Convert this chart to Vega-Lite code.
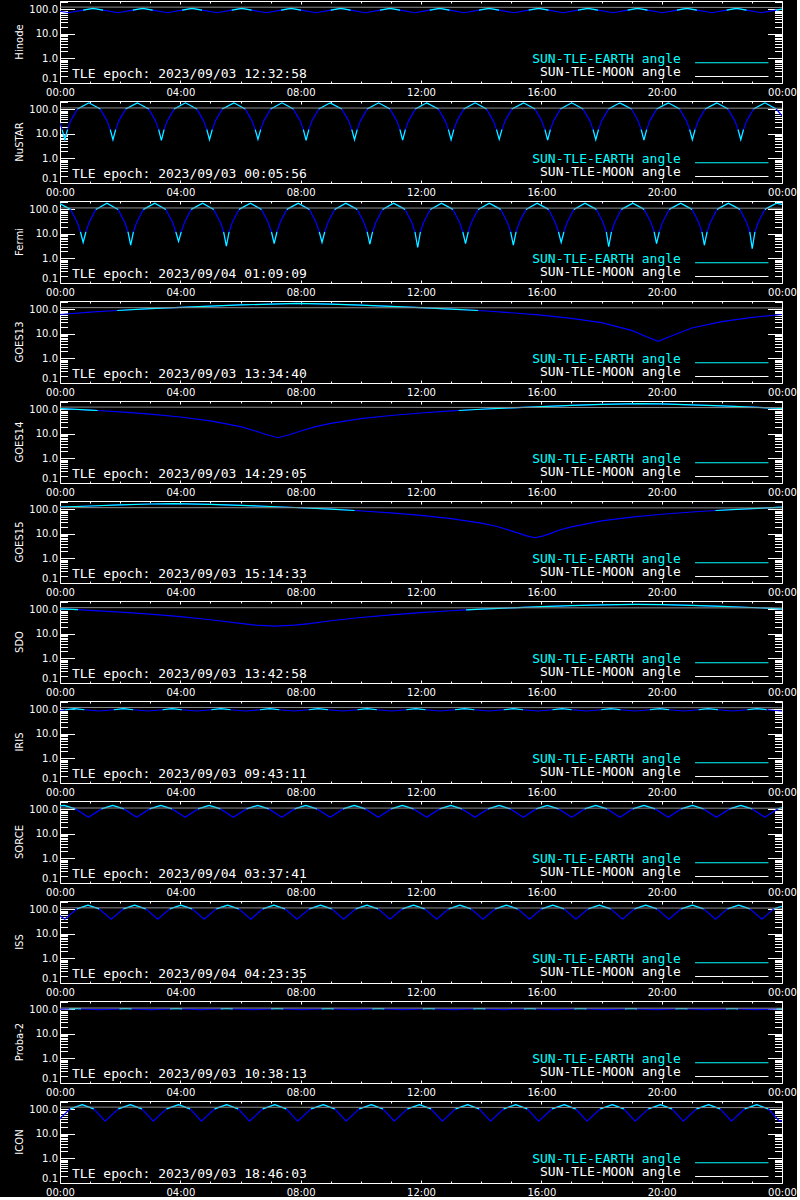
{
"$schema": "https://vega.github.io/schema/vega-lite/v6.json",
"background": "black",
"padding": {"left": 15, "top": 0, "right": 0, "bottom": 0},
"bounds": "flush",
"spacing": {"row": 18},
"data": {"values": [
{"s":"Hinode","t":0,"v":84},{"s":"Hinode","t":0.28,"v":73},
{"s":"Hinode","t":0.77,"v":93,"g":1},{"s":"Hinode","t":1.1,"v":111,"g":1},{"s":"Hinode","t":1.43,"v":93,"g":1},{"s":"Hinode","t":1.93,"v":73},
{"s":"Hinode","t":2.42,"v":93,"g":2},{"s":"Hinode","t":2.75,"v":111,"g":2},{"s":"Hinode","t":3.08,"v":93,"g":2},{"s":"Hinode","t":3.57,"v":73},
{"s":"Hinode","t":4.06,"v":93,"g":3},{"s":"Hinode","t":4.39,"v":111,"g":3},{"s":"Hinode","t":4.72,"v":93,"g":3},{"s":"Hinode","t":5.22,"v":73},
{"s":"Hinode","t":5.71,"v":93,"g":4},{"s":"Hinode","t":6.04,"v":111,"g":4},{"s":"Hinode","t":6.37,"v":93,"g":4},{"s":"Hinode","t":6.86,"v":73},
{"s":"Hinode","t":7.35,"v":93,"g":5},{"s":"Hinode","t":7.68,"v":111,"g":5},{"s":"Hinode","t":8.01,"v":93,"g":5},{"s":"Hinode","t":8.51,"v":73},
{"s":"Hinode","t":9.0,"v":93,"g":6},{"s":"Hinode","t":9.33,"v":111,"g":6},{"s":"Hinode","t":9.66,"v":93,"g":6},{"s":"Hinode","t":10.15,"v":73},
{"s":"Hinode","t":10.64,"v":93,"g":7},{"s":"Hinode","t":10.97,"v":111,"g":7},{"s":"Hinode","t":11.3,"v":93,"g":7},{"s":"Hinode","t":11.8,"v":73},
{"s":"Hinode","t":12.29,"v":93,"g":8},{"s":"Hinode","t":12.62,"v":111,"g":8},{"s":"Hinode","t":12.95,"v":93,"g":8},{"s":"Hinode","t":13.44,"v":73},
{"s":"Hinode","t":13.93,"v":93,"g":9},{"s":"Hinode","t":14.26,"v":111,"g":9},{"s":"Hinode","t":14.59,"v":93,"g":9},{"s":"Hinode","t":15.09,"v":73},
{"s":"Hinode","t":15.58,"v":93,"g":10},{"s":"Hinode","t":15.91,"v":111,"g":10},{"s":"Hinode","t":16.24,"v":93,"g":10},{"s":"Hinode","t":16.73,"v":73},
{"s":"Hinode","t":17.22,"v":93,"g":11},{"s":"Hinode","t":17.55,"v":111,"g":11},{"s":"Hinode","t":17.88,"v":93,"g":11},{"s":"Hinode","t":18.38,"v":73},
{"s":"Hinode","t":18.87,"v":93,"g":12},{"s":"Hinode","t":19.2,"v":111,"g":12},{"s":"Hinode","t":19.53,"v":93,"g":12},{"s":"Hinode","t":20.02,"v":73},
{"s":"Hinode","t":20.51,"v":93,"g":13},{"s":"Hinode","t":20.84,"v":111,"g":13},{"s":"Hinode","t":21.17,"v":93,"g":13},{"s":"Hinode","t":21.67,"v":73},
{"s":"Hinode","t":22.16,"v":93,"g":14},{"s":"Hinode","t":22.49,"v":111,"g":14},{"s":"Hinode","t":22.82,"v":93,"g":14},{"s":"Hinode","t":23.31,"v":73},
{"s":"Hinode","t":23.8,"v":93,"g":15},{"s":"Hinode","t":24,"v":102,"g":15},

{"s":"NuSTAR","t":0,"v":28},{"s":"NuSTAR","t":0.07,"v":15,"g":"d1"},{"s":"NuSTAR","t":0.16,"v":6,"g":"d1"},{"s":"NuSTAR","t":0.25,"v":15,"g":"d1"},{"s":"NuSTAR","t":0.36,"v":35},
{"s":"NuSTAR","t":0.58,"v":103,"g":"p1"},{"s":"NuSTAR","t":0.96,"v":185,"g":"p1"},{"s":"NuSTAR","t":1.34,"v":103,"g":"p1"},{"s":"NuSTAR","t":1.56,"v":35},
{"s":"NuSTAR","t":1.67,"v":15,"g":"d2"},{"s":"NuSTAR","t":1.76,"v":5.8,"g":"d2"},{"s":"NuSTAR","t":1.85,"v":15,"g":"d2"},{"s":"NuSTAR","t":1.96,"v":35},
{"s":"NuSTAR","t":2.18,"v":103,"g":"p2"},{"s":"NuSTAR","t":2.57,"v":185,"g":"p2"},{"s":"NuSTAR","t":2.95,"v":103,"g":"p2"},{"s":"NuSTAR","t":3.17,"v":35},
{"s":"NuSTAR","t":3.28,"v":15,"g":"d3"},{"s":"NuSTAR","t":3.37,"v":5.5,"g":"d3"},{"s":"NuSTAR","t":3.46,"v":15,"g":"d3"},{"s":"NuSTAR","t":3.57,"v":35},
{"s":"NuSTAR","t":3.79,"v":103,"g":"p3"},{"s":"NuSTAR","t":4.17,"v":185,"g":"p3"},{"s":"NuSTAR","t":4.55,"v":103,"g":"p3"},{"s":"NuSTAR","t":4.77,"v":35},
{"s":"NuSTAR","t":4.88,"v":15,"g":"d4"},{"s":"NuSTAR","t":4.97,"v":5.8,"g":"d4"},{"s":"NuSTAR","t":5.06,"v":15,"g":"d4"},{"s":"NuSTAR","t":5.17,"v":35},
{"s":"NuSTAR","t":5.39,"v":103,"g":"p4"},{"s":"NuSTAR","t":5.78,"v":185,"g":"p4"},{"s":"NuSTAR","t":6.16,"v":103,"g":"p4"},{"s":"NuSTAR","t":6.38,"v":35},
{"s":"NuSTAR","t":6.49,"v":15,"g":"d5"},{"s":"NuSTAR","t":6.58,"v":6,"g":"d5"},{"s":"NuSTAR","t":6.67,"v":15,"g":"d5"},{"s":"NuSTAR","t":6.78,"v":35},
{"s":"NuSTAR","t":7.0,"v":103,"g":"p5"},{"s":"NuSTAR","t":7.38,"v":185,"g":"p5"},{"s":"NuSTAR","t":7.76,"v":103,"g":"p5"},{"s":"NuSTAR","t":7.98,"v":35},
{"s":"NuSTAR","t":8.09,"v":15,"g":"d6"},{"s":"NuSTAR","t":8.18,"v":5.5,"g":"d6"},{"s":"NuSTAR","t":8.27,"v":15,"g":"d6"},{"s":"NuSTAR","t":8.38,"v":35},
{"s":"NuSTAR","t":8.6,"v":103,"g":"p6"},{"s":"NuSTAR","t":8.98,"v":185,"g":"p6"},{"s":"NuSTAR","t":9.37,"v":103,"g":"p6"},{"s":"NuSTAR","t":9.59,"v":35},
{"s":"NuSTAR","t":9.7,"v":15,"g":"d7"},{"s":"NuSTAR","t":9.79,"v":5.8,"g":"d7"},{"s":"NuSTAR","t":9.88,"v":15,"g":"d7"},{"s":"NuSTAR","t":9.99,"v":35},
{"s":"NuSTAR","t":10.21,"v":103,"g":"p7"},{"s":"NuSTAR","t":10.59,"v":185,"g":"p7"},{"s":"NuSTAR","t":10.97,"v":103,"g":"p7"},{"s":"NuSTAR","t":11.19,"v":35},
{"s":"NuSTAR","t":11.3,"v":15,"g":"d8"},{"s":"NuSTAR","t":11.39,"v":5.6,"g":"d8"},{"s":"NuSTAR","t":11.48,"v":15,"g":"d8"},{"s":"NuSTAR","t":11.59,"v":35},
{"s":"NuSTAR","t":11.81,"v":103,"g":"p8"},{"s":"NuSTAR","t":12.19,"v":185,"g":"p8"},{"s":"NuSTAR","t":12.58,"v":103,"g":"p8"},{"s":"NuSTAR","t":12.8,"v":35},
{"s":"NuSTAR","t":12.91,"v":15,"g":"d9"},{"s":"NuSTAR","t":13.0,"v":5.8,"g":"d9"},{"s":"NuSTAR","t":13.09,"v":15,"g":"d9"},{"s":"NuSTAR","t":13.2,"v":35},
{"s":"NuSTAR","t":13.42,"v":103,"g":"p9"},{"s":"NuSTAR","t":13.8,"v":185,"g":"p9"},{"s":"NuSTAR","t":14.18,"v":103,"g":"p9"},{"s":"NuSTAR","t":14.4,"v":35},
{"s":"NuSTAR","t":14.51,"v":15,"g":"d10"},{"s":"NuSTAR","t":14.6,"v":6,"g":"d10"},{"s":"NuSTAR","t":14.69,"v":15,"g":"d10"},{"s":"NuSTAR","t":14.8,"v":35},
{"s":"NuSTAR","t":15.02,"v":103,"g":"p10"},{"s":"NuSTAR","t":15.41,"v":185,"g":"p10"},{"s":"NuSTAR","t":15.79,"v":103,"g":"p10"},{"s":"NuSTAR","t":16.01,"v":35},
{"s":"NuSTAR","t":16.12,"v":15,"g":"d11"},{"s":"NuSTAR","t":16.21,"v":5.6,"g":"d11"},{"s":"NuSTAR","t":16.3,"v":15,"g":"d11"},{"s":"NuSTAR","t":16.41,"v":35},
{"s":"NuSTAR","t":16.63,"v":103,"g":"p11"},{"s":"NuSTAR","t":17.01,"v":185,"g":"p11"},{"s":"NuSTAR","t":17.39,"v":103,"g":"p11"},{"s":"NuSTAR","t":17.61,"v":35},
{"s":"NuSTAR","t":17.72,"v":15,"g":"d12"},{"s":"NuSTAR","t":17.81,"v":5.8,"g":"d12"},{"s":"NuSTAR","t":17.9,"v":15,"g":"d12"},{"s":"NuSTAR","t":18.01,"v":35},
{"s":"NuSTAR","t":18.23,"v":103,"g":"p12"},{"s":"NuSTAR","t":18.61,"v":185,"g":"p12"},{"s":"NuSTAR","t":19.0,"v":103,"g":"p12"},{"s":"NuSTAR","t":19.21,"v":35},
{"s":"NuSTAR","t":19.32,"v":15,"g":"d13"},{"s":"NuSTAR","t":19.41,"v":5.6,"g":"d13"},{"s":"NuSTAR","t":19.5,"v":15,"g":"d13"},{"s":"NuSTAR","t":19.61,"v":35},
{"s":"NuSTAR","t":19.83,"v":103,"g":"p13"},{"s":"NuSTAR","t":20.22,"v":185,"g":"p13"},{"s":"NuSTAR","t":20.6,"v":103,"g":"p13"},{"s":"NuSTAR","t":20.82,"v":35},
{"s":"NuSTAR","t":20.93,"v":15,"g":"d14"},{"s":"NuSTAR","t":21.02,"v":5.8,"g":"d14"},{"s":"NuSTAR","t":21.11,"v":15,"g":"d14"},{"s":"NuSTAR","t":21.22,"v":35},
{"s":"NuSTAR","t":21.44,"v":103,"g":"p14"},{"s":"NuSTAR","t":21.83,"v":185,"g":"p14"},{"s":"NuSTAR","t":22.21,"v":103,"g":"p14"},{"s":"NuSTAR","t":22.43,"v":35},
{"s":"NuSTAR","t":22.54,"v":15,"g":"d15"},{"s":"NuSTAR","t":22.63,"v":5.8,"g":"d15"},{"s":"NuSTAR","t":22.72,"v":15,"g":"d15"},{"s":"NuSTAR","t":22.83,"v":35},
{"s":"NuSTAR","t":23.05,"v":103,"g":"p15"},{"s":"NuSTAR","t":23.43,"v":185,"g":"p15"},{"s":"NuSTAR","t":23.81,"v":103,"g":"p15"},{"s":"NuSTAR","t":24,"v":55},

{"s":"Fermi","t":0,"v":170,"g":"p0"},{"s":"Fermi","t":0.35,"v":100,"g":"p0"},{"s":"Fermi","t":0.57,"v":30},
{"s":"Fermi","t":0.68,"v":12,"g":"d1"},{"s":"Fermi","t":0.77,"v":4.5,"g":"d1"},{"s":"Fermi","t":0.86,"v":12,"g":"d1"},{"s":"Fermi","t":0.97,"v":30},
{"s":"Fermi","t":1.19,"v":100,"g":"p1"},{"s":"Fermi","t":1.56,"v":178,"g":"p1"},{"s":"Fermi","t":1.93,"v":100,"g":"p1"},{"s":"Fermi","t":2.15,"v":30},
{"s":"Fermi","t":2.26,"v":12,"g":"d2"},{"s":"Fermi","t":2.35,"v":3.5,"g":"d2"},{"s":"Fermi","t":2.44,"v":12,"g":"d2"},{"s":"Fermi","t":2.55,"v":30},
{"s":"Fermi","t":2.77,"v":100,"g":"p2"},{"s":"Fermi","t":3.15,"v":178,"g":"p2"},{"s":"Fermi","t":3.52,"v":100,"g":"p2"},{"s":"Fermi","t":3.74,"v":30},
{"s":"Fermi","t":3.85,"v":12,"g":"d3"},{"s":"Fermi","t":3.94,"v":5,"g":"d3"},{"s":"Fermi","t":4.03,"v":12,"g":"d3"},{"s":"Fermi","t":4.14,"v":30},
{"s":"Fermi","t":4.36,"v":100,"g":"p3"},{"s":"Fermi","t":4.74,"v":178,"g":"p3"},{"s":"Fermi","t":5.11,"v":100,"g":"p3"},{"s":"Fermi","t":5.33,"v":30},
{"s":"Fermi","t":5.44,"v":12,"g":"d4"},{"s":"Fermi","t":5.53,"v":3.2,"g":"d4"},{"s":"Fermi","t":5.62,"v":12,"g":"d4"},{"s":"Fermi","t":5.73,"v":30},
{"s":"Fermi","t":5.95,"v":100,"g":"p4"},{"s":"Fermi","t":6.33,"v":178,"g":"p4"},{"s":"Fermi","t":6.7,"v":100,"g":"p4"},{"s":"Fermi","t":6.92,"v":30},
{"s":"Fermi","t":7.03,"v":12,"g":"d5"},{"s":"Fermi","t":7.12,"v":4,"g":"d5"},{"s":"Fermi","t":7.21,"v":12,"g":"d5"},{"s":"Fermi","t":7.32,"v":30},
{"s":"Fermi","t":7.54,"v":100,"g":"p5"},{"s":"Fermi","t":7.92,"v":178,"g":"p5"},{"s":"Fermi","t":8.29,"v":100,"g":"p5"},{"s":"Fermi","t":8.51,"v":30},
{"s":"Fermi","t":8.62,"v":12,"g":"d6"},{"s":"Fermi","t":8.71,"v":4.5,"g":"d6"},{"s":"Fermi","t":8.8,"v":12,"g":"d6"},{"s":"Fermi","t":8.91,"v":30},
{"s":"Fermi","t":9.13,"v":100,"g":"p6"},{"s":"Fermi","t":9.5,"v":178,"g":"p6"},{"s":"Fermi","t":9.88,"v":100,"g":"p6"},{"s":"Fermi","t":10.1,"v":30},
{"s":"Fermi","t":10.21,"v":12,"g":"d7"},{"s":"Fermi","t":10.3,"v":3.8,"g":"d7"},{"s":"Fermi","t":10.39,"v":12,"g":"d7"},{"s":"Fermi","t":10.5,"v":30},
{"s":"Fermi","t":10.72,"v":100,"g":"p7"},{"s":"Fermi","t":11.09,"v":178,"g":"p7"},{"s":"Fermi","t":11.47,"v":100,"g":"p7"},{"s":"Fermi","t":11.69,"v":30},
{"s":"Fermi","t":11.8,"v":12,"g":"d8"},{"s":"Fermi","t":11.89,"v":2.8,"g":"d8"},{"s":"Fermi","t":11.98,"v":12,"g":"d8"},{"s":"Fermi","t":12.09,"v":30},
{"s":"Fermi","t":12.31,"v":100,"g":"p8"},{"s":"Fermi","t":12.68,"v":178,"g":"p8"},{"s":"Fermi","t":13.06,"v":100,"g":"p8"},{"s":"Fermi","t":13.28,"v":30},
{"s":"Fermi","t":13.39,"v":12,"g":"d9"},{"s":"Fermi","t":13.48,"v":4,"g":"d9"},{"s":"Fermi","t":13.57,"v":12,"g":"d9"},{"s":"Fermi","t":13.68,"v":30},
{"s":"Fermi","t":13.9,"v":100,"g":"p9"},{"s":"Fermi","t":14.27,"v":178,"g":"p9"},{"s":"Fermi","t":14.65,"v":100,"g":"p9"},{"s":"Fermi","t":14.87,"v":30},
{"s":"Fermi","t":14.98,"v":12,"g":"d10"},{"s":"Fermi","t":15.07,"v":3.5,"g":"d10"},{"s":"Fermi","t":15.16,"v":12,"g":"d10"},{"s":"Fermi","t":15.27,"v":30},
{"s":"Fermi","t":15.49,"v":100,"g":"p10"},{"s":"Fermi","t":15.86,"v":178,"g":"p10"},{"s":"Fermi","t":16.24,"v":100,"g":"p10"},{"s":"Fermi","t":16.46,"v":30},
{"s":"Fermi","t":16.57,"v":12,"g":"d11"},{"s":"Fermi","t":16.66,"v":4.5,"g":"d11"},{"s":"Fermi","t":16.75,"v":12,"g":"d11"},{"s":"Fermi","t":16.86,"v":30},
{"s":"Fermi","t":17.08,"v":100,"g":"p11"},{"s":"Fermi","t":17.45,"v":178,"g":"p11"},{"s":"Fermi","t":17.83,"v":100,"g":"p11"},{"s":"Fermi","t":18.05,"v":30},
{"s":"Fermi","t":18.16,"v":12,"g":"d12"},{"s":"Fermi","t":18.24,"v":3,"g":"d12"},{"s":"Fermi","t":18.33,"v":12,"g":"d12"},{"s":"Fermi","t":18.44,"v":30},
{"s":"Fermi","t":18.66,"v":100,"g":"p12"},{"s":"Fermi","t":19.04,"v":178,"g":"p12"},{"s":"Fermi","t":19.42,"v":100,"g":"p12"},{"s":"Fermi","t":19.64,"v":30},
{"s":"Fermi","t":19.75,"v":12,"g":"d13"},{"s":"Fermi","t":19.83,"v":4,"g":"d13"},{"s":"Fermi","t":19.92,"v":12,"g":"d13"},{"s":"Fermi","t":20.03,"v":30},
{"s":"Fermi","t":20.25,"v":100,"g":"p13"},{"s":"Fermi","t":20.63,"v":178,"g":"p13"},{"s":"Fermi","t":21.01,"v":100,"g":"p13"},{"s":"Fermi","t":21.23,"v":30},
{"s":"Fermi","t":21.34,"v":12,"g":"d14"},{"s":"Fermi","t":21.42,"v":3.5,"g":"d14"},{"s":"Fermi","t":21.51,"v":12,"g":"d14"},{"s":"Fermi","t":21.62,"v":30},
{"s":"Fermi","t":21.84,"v":100,"g":"p14"},{"s":"Fermi","t":22.22,"v":178,"g":"p14"},{"s":"Fermi","t":22.6,"v":100,"g":"p14"},{"s":"Fermi","t":22.82,"v":30},
{"s":"Fermi","t":22.93,"v":12,"g":"d15"},{"s":"Fermi","t":23.01,"v":2.5,"g":"d15"},{"s":"Fermi","t":23.1,"v":12,"g":"d15"},{"s":"Fermi","t":23.21,"v":30},
{"s":"Fermi","t":23.43,"v":100,"g":"p15"},{"s":"Fermi","t":23.81,"v":178,"g":"p15"},{"s":"Fermi","t":24,"v":160,"g":"p15"},

{"s":"GOES13","t":0,"v":62},{"s":"GOES13","t":1,"v":77},{"s":"GOES13","t":1.9,"v":90,"g":1},{"s":"GOES13","t":3,"v":107,"g":1},{"s":"GOES13","t":4,"v":122,"g":1},{"s":"GOES13","t":5,"v":137,"g":1},{"s":"GOES13","t":6,"v":152,"g":1},{"s":"GOES13","t":7,"v":165,"g":1},{"s":"GOES13","t":7.88,"v":175,"g":1},{"s":"GOES13","t":9,"v":163,"g":1},{"s":"GOES13","t":10,"v":148,"g":1},{"s":"GOES13","t":11,"v":133,"g":1},{"s":"GOES13","t":12,"v":118,"g":1},{"s":"GOES13","t":13,"v":103,"g":1},{"s":"GOES13","t":13.9,"v":90,"g":1},{"s":"GOES13","t":15,"v":73},{"s":"GOES13","t":16,"v":58},{"s":"GOES13","t":17,"v":43},{"s":"GOES13","t":18,"v":29},{"s":"GOES13","t":19,"v":14},{"s":"GOES13","t":19.5,"v":7.7},{"s":"GOES13","t":19.88,"v":5},{"s":"GOES13","t":20.3,"v":8},{"s":"GOES13","t":21,"v":17.5},{"s":"GOES13","t":22,"v":32},{"s":"GOES13","t":23,"v":47},{"s":"GOES13","t":24,"v":62},

{"s":"GOES14","t":0,"v":108.6,"g":1},{"s":"GOES14","t":1,"v":93.7,"g":1},{"s":"GOES14","t":1.25,"v":90,"g":1},{"s":"GOES14","t":2,"v":78.8},{"s":"GOES14","t":3,"v":63.9},{"s":"GOES14","t":4,"v":49.1},{"s":"GOES14","t":5,"v":34.3},{"s":"GOES14","t":6,"v":19.9},{"s":"GOES14","t":6.5,"v":13.2},{"s":"GOES14","t":6.85,"v":9.5},{"s":"GOES14","t":7.25,"v":7},{"s":"GOES14","t":7.65,"v":9.5},{"s":"GOES14","t":8,"v":13.2},{"s":"GOES14","t":8.5,"v":19.9},{"s":"GOES14","t":9,"v":27.1},{"s":"GOES14","t":10,"v":41.7},{"s":"GOES14","t":11,"v":56.5},{"s":"GOES14","t":12,"v":71.3},{"s":"GOES14","t":13,"v":86.3},{"s":"GOES14","t":13.25,"v":90,"g":2},{"s":"GOES14","t":14,"v":101.2,"g":2},{"s":"GOES14","t":15,"v":116,"g":2},{"s":"GOES14","t":16,"v":130.9,"g":2},{"s":"GOES14","t":17,"v":145.6,"g":2},{"s":"GOES14","t":18,"v":160,"g":2},{"s":"GOES14","t":19.25,"v":173,"g":2},{"s":"GOES14","t":20,"v":167,"g":2},{"s":"GOES14","t":21,"v":153,"g":2},{"s":"GOES14","t":22,"v":138,"g":2},{"s":"GOES14","t":23,"v":123.5,"g":2},{"s":"GOES14","t":24,"v":108.6,"g":2},

{"s":"GOES15","t":0,"v":122.9,"g":1},{"s":"GOES15","t":1,"v":137.7,"g":1},{"s":"GOES15","t":2,"v":152.4,"g":1},{"s":"GOES15","t":3,"v":166.3,"g":1},{"s":"GOES15","t":3.79,"v":173,"g":1},{"s":"GOES15","t":5,"v":160.5,"g":1},{"s":"GOES15","t":6,"v":146.2,"g":1},{"s":"GOES15","t":7,"v":131.5,"g":1},{"s":"GOES15","t":8,"v":116.6,"g":1},{"s":"GOES15","t":9,"v":101.8,"g":1},{"s":"GOES15","t":9.79,"v":90,"g":1},{"s":"GOES15","t":11,"v":72},{"s":"GOES15","t":12,"v":57.1},{"s":"GOES15","t":13,"v":42.3},{"s":"GOES15","t":14,"v":27.6},{"s":"GOES15","t":14.5,"v":20.5},{"s":"GOES15","t":15,"v":13.4},{"s":"GOES15","t":15.29,"v":10.3},{"s":"GOES15","t":15.54,"v":8.2},{"s":"GOES15","t":15.79,"v":7},{"s":"GOES15","t":16.04,"v":8.2},{"s":"GOES15","t":16.29,"v":10.3},{"s":"GOES15","t":16.6,"v":14.5},{"s":"GOES15","t":17,"v":19.3},{"s":"GOES15","t":18,"v":33.8},{"s":"GOES15","t":19,"v":48.5},{"s":"GOES15","t":20,"v":63.4},{"s":"GOES15","t":21,"v":78.2},{"s":"GOES15","t":21.79,"v":90,"g":2},{"s":"GOES15","t":23,"v":108,"g":2},{"s":"GOES15","t":24,"v":122.9,"g":2},

{"s":"SDO","t":0,"v":106,"g":1},{"s":"SDO","t":0.6,"v":97.6,"g":1},{"s":"SDO","t":1,"v":92},{"s":"SDO","t":2,"v":78},{"s":"SDO","t":3,"v":64},{"s":"SDO","t":4,"v":50.6},{"s":"SDO","t":5,"v":37.8},{"s":"SDO","t":6,"v":26.7},{"s":"SDO","t":6.5,"v":23},{"s":"SDO","t":7.15,"v":21},{"s":"SDO","t":7.8,"v":23},{"s":"SDO","t":8.3,"v":26.5},{"s":"SDO","t":9,"v":34.4},{"s":"SDO","t":10,"v":46.8},{"s":"SDO","t":11,"v":60.2},{"s":"SDO","t":12,"v":73.9},{"s":"SDO","t":13,"v":87.9},{"s":"SDO","t":13.5,"v":94.9,"g":2},{"s":"SDO","t":14,"v":101.9,"g":2},{"s":"SDO","t":15,"v":115.7,"g":2},{"s":"SDO","t":16,"v":129.3,"g":2},{"s":"SDO","t":17,"v":142.1,"g":2},{"s":"SDO","t":18,"v":152.8,"g":2},{"s":"SDO","t":19.15,"v":159,"g":2},{"s":"SDO","t":20,"v":155.9,"g":2},{"s":"SDO","t":21,"v":145.5,"g":2},{"s":"SDO","t":22,"v":133.2,"g":2},{"s":"SDO","t":23,"v":119.8,"g":2},{"s":"SDO","t":24,"v":106,"g":2},

{"s":"IRIS","t":0,"v":90},{"s":"IRIS","t":0.17,"v":97,"g":1},{"s":"IRIS","t":0.49,"v":107,"g":1},{"s":"IRIS","t":0.81,"v":97,"g":1},{"s":"IRIS","t":1.3,"v":86},
{"s":"IRIS","t":1.79,"v":97,"g":2},{"s":"IRIS","t":2.11,"v":107,"g":2},{"s":"IRIS","t":2.43,"v":97,"g":2},{"s":"IRIS","t":2.92,"v":86},
{"s":"IRIS","t":3.41,"v":97,"g":3},{"s":"IRIS","t":3.73,"v":107,"g":3},{"s":"IRIS","t":4.05,"v":97,"g":3},{"s":"IRIS","t":4.54,"v":86},
{"s":"IRIS","t":5.03,"v":97,"g":4},{"s":"IRIS","t":5.35,"v":107,"g":4},{"s":"IRIS","t":5.67,"v":97,"g":4},{"s":"IRIS","t":6.16,"v":86},
{"s":"IRIS","t":6.65,"v":97,"g":5},{"s":"IRIS","t":6.97,"v":107,"g":5},{"s":"IRIS","t":7.29,"v":97,"g":5},{"s":"IRIS","t":7.78,"v":86},
{"s":"IRIS","t":8.27,"v":97,"g":6},{"s":"IRIS","t":8.59,"v":107,"g":6},{"s":"IRIS","t":8.91,"v":97,"g":6},{"s":"IRIS","t":9.4,"v":86},
{"s":"IRIS","t":9.89,"v":97,"g":7},{"s":"IRIS","t":10.21,"v":107,"g":7},{"s":"IRIS","t":10.53,"v":97,"g":7},{"s":"IRIS","t":11.02,"v":86},
{"s":"IRIS","t":11.51,"v":97,"g":8},{"s":"IRIS","t":11.83,"v":107,"g":8},{"s":"IRIS","t":12.15,"v":97,"g":8},{"s":"IRIS","t":12.64,"v":86},
{"s":"IRIS","t":13.13,"v":97,"g":9},{"s":"IRIS","t":13.45,"v":107,"g":9},{"s":"IRIS","t":13.77,"v":97,"g":9},{"s":"IRIS","t":14.26,"v":86},
{"s":"IRIS","t":14.75,"v":97,"g":10},{"s":"IRIS","t":15.07,"v":107,"g":10},{"s":"IRIS","t":15.39,"v":97,"g":10},{"s":"IRIS","t":15.88,"v":86},
{"s":"IRIS","t":16.37,"v":97,"g":11},{"s":"IRIS","t":16.69,"v":107,"g":11},{"s":"IRIS","t":17.01,"v":97,"g":11},{"s":"IRIS","t":17.5,"v":86},
{"s":"IRIS","t":17.99,"v":97,"g":12},{"s":"IRIS","t":18.31,"v":107,"g":12},{"s":"IRIS","t":18.63,"v":97,"g":12},{"s":"IRIS","t":19.12,"v":86},
{"s":"IRIS","t":19.61,"v":97,"g":13},{"s":"IRIS","t":19.93,"v":107,"g":13},{"s":"IRIS","t":20.25,"v":97,"g":13},{"s":"IRIS","t":20.74,"v":86},
{"s":"IRIS","t":21.23,"v":97,"g":14},{"s":"IRIS","t":21.55,"v":107,"g":14},{"s":"IRIS","t":21.87,"v":97,"g":14},{"s":"IRIS","t":22.36,"v":86},
{"s":"IRIS","t":22.85,"v":97,"g":15},{"s":"IRIS","t":23.17,"v":107,"g":15},{"s":"IRIS","t":23.49,"v":97,"g":15},{"s":"IRIS","t":23.98,"v":86},{"s":"IRIS","t":24,"v":86},

{"s":"SORCE","t":0,"v":140,"g":1},{"s":"SORCE","t":0.14,"v":145,"g":1},{"s":"SORCE","t":0.51,"v":105,"g":1},{"s":"SORCE","t":0.95,"v":48},
{"s":"SORCE","t":1.38,"v":105,"g":2},{"s":"SORCE","t":1.75,"v":145,"g":2},{"s":"SORCE","t":2.12,"v":105,"g":2},{"s":"SORCE","t":2.55,"v":48},
{"s":"SORCE","t":2.98,"v":105,"g":3},{"s":"SORCE","t":3.35,"v":145,"g":3},{"s":"SORCE","t":3.72,"v":105,"g":3},{"s":"SORCE","t":4.16,"v":48},
{"s":"SORCE","t":4.59,"v":105,"g":4},{"s":"SORCE","t":4.96,"v":145,"g":4},{"s":"SORCE","t":5.33,"v":105,"g":4},{"s":"SORCE","t":5.76,"v":48},
{"s":"SORCE","t":6.2,"v":105,"g":5},{"s":"SORCE","t":6.57,"v":145,"g":5},{"s":"SORCE","t":6.94,"v":105,"g":5},{"s":"SORCE","t":7.37,"v":48},
{"s":"SORCE","t":7.8,"v":105,"g":6},{"s":"SORCE","t":8.17,"v":145,"g":6},{"s":"SORCE","t":8.54,"v":105,"g":6},{"s":"SORCE","t":8.98,"v":48},
{"s":"SORCE","t":9.41,"v":105,"g":7},{"s":"SORCE","t":9.78,"v":145,"g":7},{"s":"SORCE","t":10.15,"v":105,"g":7},{"s":"SORCE","t":10.58,"v":48},
{"s":"SORCE","t":11.01,"v":105,"g":8},{"s":"SORCE","t":11.38,"v":145,"g":8},{"s":"SORCE","t":11.75,"v":105,"g":8},{"s":"SORCE","t":12.19,"v":48},
{"s":"SORCE","t":12.62,"v":105,"g":9},{"s":"SORCE","t":12.99,"v":145,"g":9},{"s":"SORCE","t":13.36,"v":105,"g":9},{"s":"SORCE","t":13.79,"v":48},
{"s":"SORCE","t":14.23,"v":105,"g":10},{"s":"SORCE","t":14.6,"v":145,"g":10},{"s":"SORCE","t":14.97,"v":105,"g":10},{"s":"SORCE","t":15.4,"v":48},
{"s":"SORCE","t":15.83,"v":105,"g":11},{"s":"SORCE","t":16.2,"v":145,"g":11},{"s":"SORCE","t":16.57,"v":105,"g":11},{"s":"SORCE","t":17.01,"v":48},
{"s":"SORCE","t":17.44,"v":105,"g":12},{"s":"SORCE","t":17.81,"v":145,"g":12},{"s":"SORCE","t":18.18,"v":105,"g":12},{"s":"SORCE","t":18.61,"v":48},
{"s":"SORCE","t":19.04,"v":105,"g":13},{"s":"SORCE","t":19.41,"v":145,"g":13},{"s":"SORCE","t":19.78,"v":105,"g":13},{"s":"SORCE","t":20.22,"v":48},
{"s":"SORCE","t":20.65,"v":105,"g":14},{"s":"SORCE","t":21.02,"v":145,"g":14},{"s":"SORCE","t":21.39,"v":105,"g":14},{"s":"SORCE","t":21.82,"v":48},
{"s":"SORCE","t":22.26,"v":105,"g":15},{"s":"SORCE","t":22.63,"v":145,"g":15},{"s":"SORCE","t":23.0,"v":105,"g":15},{"s":"SORCE","t":23.43,"v":48},
{"s":"SORCE","t":23.86,"v":105,"g":16},{"s":"SORCE","t":24,"v":118,"g":16},

{"s":"ISS","t":0,"v":55},{"s":"ISS","t":0.16,"v":40},
{"s":"ISS","t":0.56,"v":105,"g":1},{"s":"ISS","t":0.93,"v":150,"g":1},{"s":"ISS","t":1.3,"v":105,"g":1},{"s":"ISS","t":1.7,"v":40},
{"s":"ISS","t":2.11,"v":105,"g":2},{"s":"ISS","t":2.48,"v":150,"g":2},{"s":"ISS","t":2.85,"v":105,"g":2},{"s":"ISS","t":3.25,"v":40},
{"s":"ISS","t":3.65,"v":105,"g":3},{"s":"ISS","t":4.02,"v":150,"g":3},{"s":"ISS","t":4.39,"v":105,"g":3},{"s":"ISS","t":4.79,"v":40},
{"s":"ISS","t":5.2,"v":105,"g":4},{"s":"ISS","t":5.57,"v":150,"g":4},{"s":"ISS","t":5.94,"v":105,"g":4},{"s":"ISS","t":6.34,"v":40},
{"s":"ISS","t":6.74,"v":105,"g":5},{"s":"ISS","t":7.11,"v":150,"g":5},{"s":"ISS","t":7.48,"v":105,"g":5},{"s":"ISS","t":7.88,"v":40},
{"s":"ISS","t":8.29,"v":105,"g":6},{"s":"ISS","t":8.66,"v":150,"g":6},{"s":"ISS","t":9.03,"v":105,"g":6},{"s":"ISS","t":9.43,"v":40},
{"s":"ISS","t":9.83,"v":105,"g":7},{"s":"ISS","t":10.2,"v":150,"g":7},{"s":"ISS","t":10.57,"v":105,"g":7},{"s":"ISS","t":10.97,"v":40},
{"s":"ISS","t":11.38,"v":105,"g":8},{"s":"ISS","t":11.75,"v":150,"g":8},{"s":"ISS","t":12.12,"v":105,"g":8},{"s":"ISS","t":12.52,"v":40},
{"s":"ISS","t":12.92,"v":105,"g":9},{"s":"ISS","t":13.29,"v":150,"g":9},{"s":"ISS","t":13.66,"v":105,"g":9},{"s":"ISS","t":14.06,"v":40},
{"s":"ISS","t":14.47,"v":105,"g":10},{"s":"ISS","t":14.84,"v":150,"g":10},{"s":"ISS","t":15.21,"v":105,"g":10},{"s":"ISS","t":15.61,"v":40},
{"s":"ISS","t":16.01,"v":105,"g":11},{"s":"ISS","t":16.38,"v":150,"g":11},{"s":"ISS","t":16.75,"v":105,"g":11},{"s":"ISS","t":17.15,"v":40},
{"s":"ISS","t":17.56,"v":105,"g":12},{"s":"ISS","t":17.93,"v":150,"g":12},{"s":"ISS","t":18.3,"v":105,"g":12},{"s":"ISS","t":18.7,"v":40},
{"s":"ISS","t":19.1,"v":105,"g":13},{"s":"ISS","t":19.47,"v":150,"g":13},{"s":"ISS","t":19.84,"v":105,"g":13},{"s":"ISS","t":20.24,"v":40},
{"s":"ISS","t":20.65,"v":105,"g":14},{"s":"ISS","t":21.02,"v":150,"g":14},{"s":"ISS","t":21.39,"v":105,"g":14},{"s":"ISS","t":21.79,"v":40},
{"s":"ISS","t":22.19,"v":105,"g":15},{"s":"ISS","t":22.56,"v":150,"g":15},{"s":"ISS","t":22.93,"v":105,"g":15},{"s":"ISS","t":23.33,"v":40},
{"s":"ISS","t":23.73,"v":105,"g":16},{"s":"ISS","t":24,"v":135,"g":16},

{"s":"Proba-2","t":0,"v":102},{"s":"Proba-2","t":0.3,"v":106,"g":1},{"s":"Proba-2","t":0.5,"v":109,"g":1},{"s":"Proba-2","t":0.7,"v":106,"g":1},{"s":"Proba-2","t":1.34,"v":98},
{"s":"Proba-2","t":1.98,"v":106,"g":2},{"s":"Proba-2","t":2.18,"v":109,"g":2},{"s":"Proba-2","t":2.38,"v":106,"g":2},{"s":"Proba-2","t":3.02,"v":98},
{"s":"Proba-2","t":3.66,"v":106,"g":3},{"s":"Proba-2","t":3.86,"v":109,"g":3},{"s":"Proba-2","t":4.06,"v":106,"g":3},{"s":"Proba-2","t":4.7,"v":98},
{"s":"Proba-2","t":5.34,"v":106,"g":4},{"s":"Proba-2","t":5.54,"v":109,"g":4},{"s":"Proba-2","t":5.74,"v":106,"g":4},{"s":"Proba-2","t":6.38,"v":98},
{"s":"Proba-2","t":7.02,"v":106,"g":5},{"s":"Proba-2","t":7.22,"v":109,"g":5},{"s":"Proba-2","t":7.42,"v":106,"g":5},{"s":"Proba-2","t":8.06,"v":98},
{"s":"Proba-2","t":8.7,"v":106,"g":6},{"s":"Proba-2","t":8.9,"v":109,"g":6},{"s":"Proba-2","t":9.1,"v":106,"g":6},{"s":"Proba-2","t":9.74,"v":98},
{"s":"Proba-2","t":10.38,"v":106,"g":7},{"s":"Proba-2","t":10.58,"v":109,"g":7},{"s":"Proba-2","t":10.78,"v":106,"g":7},{"s":"Proba-2","t":11.42,"v":98},
{"s":"Proba-2","t":12.06,"v":106,"g":8},{"s":"Proba-2","t":12.26,"v":109,"g":8},{"s":"Proba-2","t":12.46,"v":106,"g":8},{"s":"Proba-2","t":13.1,"v":98},
{"s":"Proba-2","t":13.74,"v":106,"g":9},{"s":"Proba-2","t":13.94,"v":109,"g":9},{"s":"Proba-2","t":14.14,"v":106,"g":9},{"s":"Proba-2","t":14.78,"v":98},
{"s":"Proba-2","t":15.42,"v":106,"g":10},{"s":"Proba-2","t":15.62,"v":109,"g":10},{"s":"Proba-2","t":15.82,"v":106,"g":10},{"s":"Proba-2","t":16.46,"v":98},
{"s":"Proba-2","t":17.1,"v":106,"g":11},{"s":"Proba-2","t":17.3,"v":109,"g":11},{"s":"Proba-2","t":17.5,"v":106,"g":11},{"s":"Proba-2","t":18.14,"v":98},
{"s":"Proba-2","t":18.78,"v":106,"g":12},{"s":"Proba-2","t":18.98,"v":109,"g":12},{"s":"Proba-2","t":19.18,"v":106,"g":12},{"s":"Proba-2","t":19.82,"v":98},
{"s":"Proba-2","t":20.46,"v":106,"g":13},{"s":"Proba-2","t":20.66,"v":109,"g":13},{"s":"Proba-2","t":20.86,"v":106,"g":13},{"s":"Proba-2","t":21.5,"v":98},
{"s":"Proba-2","t":22.14,"v":106,"g":14},{"s":"Proba-2","t":22.34,"v":109,"g":14},{"s":"Proba-2","t":22.54,"v":106,"g":14},{"s":"Proba-2","t":23.18,"v":98},
{"s":"Proba-2","t":23.82,"v":106,"g":15},{"s":"Proba-2","t":24,"v":108,"g":15},

{"s":"ICON","t":0,"v":42},
{"s":"ICON","t":0.34,"v":105,"g":1},{"s":"ICON","t":0.74,"v":155,"g":1},{"s":"ICON","t":1.12,"v":105,"g":1},{"s":"ICON","t":1.5,"v":33},
{"s":"ICON","t":1.94,"v":105,"g":2},{"s":"ICON","t":2.34,"v":155,"g":2},{"s":"ICON","t":2.72,"v":105,"g":2},{"s":"ICON","t":3.1,"v":33},
{"s":"ICON","t":3.54,"v":105,"g":3},{"s":"ICON","t":3.94,"v":155,"g":3},{"s":"ICON","t":4.32,"v":105,"g":3},{"s":"ICON","t":4.7,"v":33},
{"s":"ICON","t":5.14,"v":105,"g":4},{"s":"ICON","t":5.54,"v":155,"g":4},{"s":"ICON","t":5.92,"v":105,"g":4},{"s":"ICON","t":6.3,"v":33},
{"s":"ICON","t":6.74,"v":105,"g":5},{"s":"ICON","t":7.14,"v":155,"g":5},{"s":"ICON","t":7.52,"v":105,"g":5},{"s":"ICON","t":7.9,"v":33},
{"s":"ICON","t":8.35,"v":105,"g":6},{"s":"ICON","t":8.75,"v":155,"g":6},{"s":"ICON","t":9.13,"v":105,"g":6},{"s":"ICON","t":9.51,"v":33},
{"s":"ICON","t":9.95,"v":105,"g":7},{"s":"ICON","t":10.35,"v":155,"g":7},{"s":"ICON","t":10.73,"v":105,"g":7},{"s":"ICON","t":11.11,"v":33},
{"s":"ICON","t":11.55,"v":105,"g":8},{"s":"ICON","t":11.95,"v":155,"g":8},{"s":"ICON","t":12.33,"v":105,"g":8},{"s":"ICON","t":12.71,"v":33},
{"s":"ICON","t":13.15,"v":105,"g":9},{"s":"ICON","t":13.55,"v":155,"g":9},{"s":"ICON","t":13.93,"v":105,"g":9},{"s":"ICON","t":14.31,"v":33},
{"s":"ICON","t":14.75,"v":105,"g":10},{"s":"ICON","t":15.15,"v":155,"g":10},{"s":"ICON","t":15.53,"v":105,"g":10},{"s":"ICON","t":15.91,"v":33},
{"s":"ICON","t":16.36,"v":105,"g":11},{"s":"ICON","t":16.76,"v":155,"g":11},{"s":"ICON","t":17.14,"v":105,"g":11},{"s":"ICON","t":17.52,"v":33},
{"s":"ICON","t":17.96,"v":105,"g":12},{"s":"ICON","t":18.36,"v":155,"g":12},{"s":"ICON","t":18.74,"v":105,"g":12},{"s":"ICON","t":19.12,"v":33},
{"s":"ICON","t":19.56,"v":105,"g":13},{"s":"ICON","t":19.96,"v":155,"g":13},{"s":"ICON","t":20.34,"v":105,"g":13},{"s":"ICON","t":20.72,"v":33},
{"s":"ICON","t":21.16,"v":105,"g":14},{"s":"ICON","t":21.56,"v":155,"g":14},{"s":"ICON","t":21.94,"v":105,"g":14},{"s":"ICON","t":22.32,"v":33},
{"s":"ICON","t":22.76,"v":105,"g":15},{"s":"ICON","t":23.16,"v":155,"g":15},{"s":"ICON","t":23.54,"v":105,"g":15},{"s":"ICON","t":23.92,"v":33},{"s":"ICON","t":24,"v":35},

{"s":"Hinode","t":0,"m":124},{"s":"Hinode","t":24,"m":120},
{"s":"NuSTAR","t":0,"m":115},{"s":"NuSTAR","t":24,"m":112},
{"s":"Fermi","t":0,"m":115},{"s":"Fermi","t":24,"m":112},
{"s":"GOES13","t":0,"m":118},{"s":"GOES13","t":24,"m":115},
{"s":"GOES14","t":0,"m":124},{"s":"GOES14","t":24,"m":118},
{"s":"GOES15","t":0,"m":118},{"s":"GOES15","t":24,"m":115},
{"s":"SDO","t":0,"m":118},{"s":"SDO","t":24,"m":115},
{"s":"IRIS","t":0,"m":120},{"s":"IRIS","t":24,"m":117},
{"s":"SORCE","t":0,"m":114},{"s":"SORCE","t":24,"m":112},
{"s":"ISS","t":0,"m":116},{"s":"ISS","t":24,"m":113},
{"s":"Proba-2","t":0,"m":114},{"s":"Proba-2","t":24,"m":112},
{"s":"ICON","t":0,"m":124},{"s":"ICON","t":24,"m":118},

{"s":"Hinode","txt":"TLE epoch: 2023/09/03 12:32:58"},
{"s":"NuSTAR","txt":"TLE epoch: 2023/09/03 00:05:56"},
{"s":"Fermi","txt":"TLE epoch: 2023/09/04 01:09:09"},
{"s":"GOES13","txt":"TLE epoch: 2023/09/03 13:34:40"},
{"s":"GOES14","txt":"TLE epoch: 2023/09/03 14:29:05"},
{"s":"GOES15","txt":"TLE epoch: 2023/09/03 15:14:33"},
{"s":"SDO","txt":"TLE epoch: 2023/09/03 13:42:58"},
{"s":"IRIS","txt":"TLE epoch: 2023/09/03 09:43:11"},
{"s":"SORCE","txt":"TLE epoch: 2023/09/04 03:37:41"},
{"s":"ISS","txt":"TLE epoch: 2023/09/04 04:23:35"},
{"s":"Proba-2","txt":"TLE epoch: 2023/09/03 10:38:13"},
{"s":"ICON","txt":"TLE epoch: 2023/09/03 18:46:03"}
]},
"facet": {"row": {"field": "s", "type": "nominal",
  "sort": ["Hinode","NuSTAR","Fermi","GOES13","GOES14","GOES15","SDO","IRIS","SORCE","ISS","Proba-2","ICON"],
  "header": {"title": null, "labelAngle": -90, "labelOrient": "left", "labelColor": "white", "labelFont": "DejaVu Sans", "labelFontSize": 10, "labelPadding": 30}}},
"resolve": {"scale": {"x": "independent", "y": "independent"}},
"spec": {
  "width": 722, "height": 82,
  "resolve": {"axis": {"x": "independent", "y": "independent"}},
  "layer": [
    {"transform": [{"filter": "isValid(datum.v)"}],
     "mark": {"type": "line", "color": "#0000ff", "strokeWidth": 1.2, "clip": true},
     "encoding": {
       "x": {"field": "t", "type": "quantitative", "scale": {"domain": [0, 24], "nice": false, "zero": false},
             "axis": {"orient": "bottom", "values": [0,4,8,12,16,20,24], "labelExpr": "(datum.value==24?'00':(datum.value<10?'0':'')+datum.value)+':00'", "tickSize": -3, "labelPadding": 7, "labelFlush": false, "title": null}},
       "y": {"field": "v", "type": "quantitative", "scale": {"type": "log", "domain": [0.1, 220], "nice": false},
             "axis": {"orient": "left", "values": [0.1,1,10,100], "format": ".1f", "tickSize": -14.5, "labelPadding": 17, "labelFlush": true, "title": null}}
     }},
    {"transform": [{"filter": "isValid(datum.g)"}],
     "mark": {"type": "line", "color": "#00ffff", "strokeWidth": 1.2, "clip": true},
     "encoding": {
       "x": {"field": "t", "type": "quantitative", "axis": {"orient": "top", "values": [0,4,8,12,16,20,24], "labels": false, "tickSize": -3, "title": null}},
       "y": {"field": "v", "type": "quantitative", "axis": {"orient": "right", "values": [0.1,1,10,100], "labels": false, "tickSize": -14.5, "title": null}},
       "detail": {"field": "g", "type": "nominal"}
     }},
    {"transform": [{"filter": "isValid(datum.m)"}],
     "mark": {"type": "line", "color": "#8c8c8c", "strokeWidth": 1, "clip": true},
     "encoding": {
       "x": {"field": "t", "type": "quantitative", "axis": {"orient": "bottom", "values": [1,2,3,5,6,7,9,10,11,13,14,15,17,18,19,21,22,23], "labels": false, "domain": false, "tickSize": -2, "title": null}},
       "y": {"field": "m", "type": "quantitative", "axis": {"orient": "left", "values": [0.2,0.3,0.4,0.5,0.6,0.7,0.8,0.9,2,3,4,5,6,7,8,9,20,30,40,50,60,70,80,90,200], "labels": false, "domain": false, "tickSize": -7.5, "title": null}}
     }},
    {"transform": [{"filter": "isValid(datum.m)"}],
     "mark": {"type": "line", "opacity": 0, "strokeOpacity": 0},
     "encoding": {
       "x": {"field": "t", "type": "quantitative", "axis": {"orient": "top", "values": [1,2,3,5,6,7,9,10,11,13,14,15,17,18,19,21,22,23], "labels": false, "domain": false, "tickSize": -2, "title": null}},
       "y": {"field": "m", "type": "quantitative", "axis": {"orient": "right", "values": [0.2,0.3,0.4,0.5,0.6,0.7,0.8,0.9,2,3,4,5,6,7,8,9,20,30,40,50,60,70,80,90,200], "labels": false, "domain": false, "tickSize": -7.5, "title": null}}
     }},
    {"transform": [{"filter": "isValid(datum.txt)"}],
     "mark": {"type": "text", "align": "left", "baseline": "alphabetic", "font": "DejaVu Sans Mono", "fontSize": 13, "color": "white"},
     "encoding": {"x": {"datum": 0.4, "axis": null}, "y": {"datum": 0.16, "axis": null}, "text": {"field": "txt"}}},
    {"transform": [{"filter": "isValid(datum.txt)"}],
     "mark": {"type": "text", "align": "right", "baseline": "alphabetic", "font": "DejaVu Sans Mono", "fontSize": 13, "color": "#00ffff", "text": "SUN-TLE-EARTH angle"},
     "encoding": {"x": {"datum": 20.64, "axis": null}, "y": {"datum": 0.67, "axis": null}}},
    {"transform": [{"filter": "isValid(datum.txt)"}],
     "mark": {"type": "text", "align": "right", "baseline": "alphabetic", "font": "DejaVu Sans Mono", "fontSize": 13, "color": "white", "text": "SUN-TLE-MOON angle"},
     "encoding": {"x": {"datum": 20.64, "axis": null}, "y": {"datum": 0.188, "axis": null}}},
    {"transform": [{"filter": "isValid(datum.txt)"}],
     "mark": {"type": "rule", "color": "#00ffff", "strokeWidth": 1.2},
     "encoding": {"x": {"datum": 21.11, "axis": null}, "x2": {"datum": 23.55}, "y": {"datum": 0.67, "axis": null}}},
    {"transform": [{"filter": "isValid(datum.txt)"}],
     "mark": {"type": "rule", "color": "white", "strokeWidth": 1.2},
     "encoding": {"x": {"datum": 21.11, "axis": null}, "x2": {"datum": 23.55}, "y": {"datum": 0.184, "axis": null}}}
  ]
},
"config": {
  "view": {"stroke": null},
  "axis": {"domainColor": "white", "tickColor": "white", "labelColor": "white", "labelFont": "DejaVu Sans", "labelFontSize": 10, "grid": false, "domainWidth": 1, "tickWidth": 1}
}
}
